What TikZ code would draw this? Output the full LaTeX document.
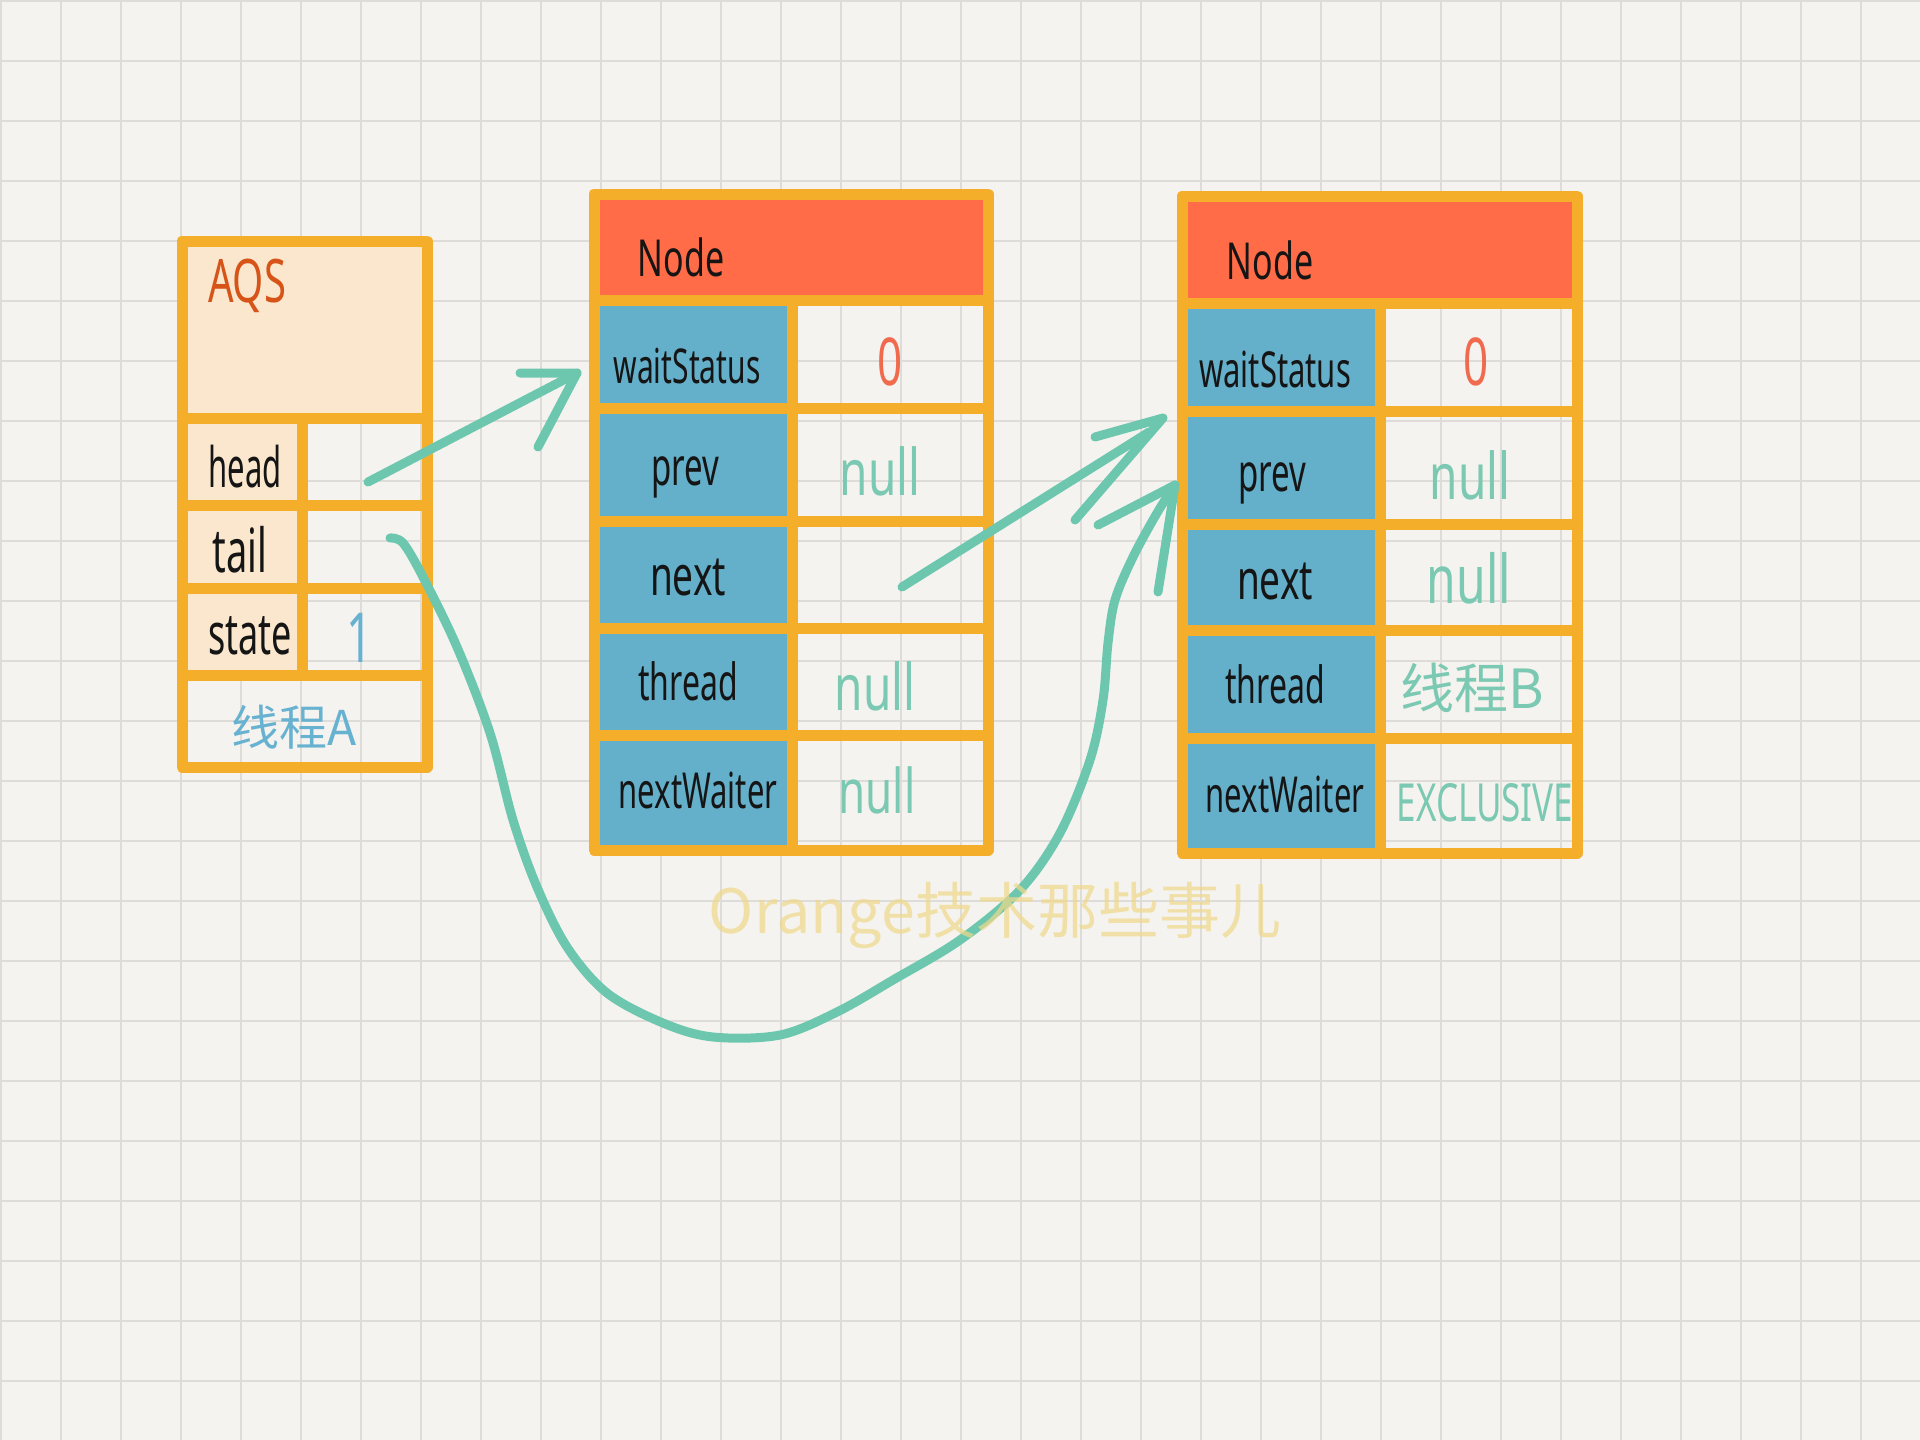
\documentclass[tikz,border=0pt]{standalone}
\usepackage{fontspec}
\usepackage{graphicx}
\setmainfont{Noto Sans}
\newfontfamily\cjk{Noto Sans CJK SC}
\usetikzlibrary{fit}
\definecolor{paper}{HTML}{F5F3EF}
\definecolor{gridc}{HTML}{DEDCD9}
\definecolor{framec}{HTML}{F5AE2A}
\definecolor{peach}{HTML}{FBE7CD}
\definecolor{hdrc}{HTML}{FF6C47}
\definecolor{lblue}{HTML}{64AFC9}
\definecolor{arrowc}{HTML}{6DC7AE}
\definecolor{nulc}{HTML}{7BC9B2}
\definecolor{zeroc}{HTML}{F06A4D}
\definecolor{aqsc}{HTML}{D65418}
\definecolor{bluetxt}{HTML}{67B1D1}
\definecolor{wmark}{HTML}{EFD98A}
\definecolor{ink}{HTML}{151515}
\newcommand\hwtext[3][1.5]{\fontsize{#2}{#2}\selectfont\scalebox{1}[#1]{#3}}
\newcommand\cjktext[2]{\fontsize{#1}{#1}\selectfont\cjk #2}
\newcommand\cellbox[6]{\node[cellst, fill=#6, fit={(#2,#3) (#4,#5)}] (#1) {};}
\begin{document}
\begin{tikzpicture}[x=1pt, y=-1pt,
  cellst/.style={rectangle, draw=framec, line width=11pt, line join=round, inner sep=0pt, outer sep=0pt},
  gridl/.style={draw=gridc, line width=2pt},
  hand/.style={inner sep=0pt, text=ink},
  nulltxt/.style={inner sep=0pt, text=nulc},
  arr/.style={draw=arrowc, line width=9pt, line cap=round, line join=round}]
\useasboundingbox (0,0) rectangle (1920,1440);
\fill[paper] (0,0) rectangle (1920,1440);
\foreach \k in {0,...,31} {\draw[gridl] ({1+60*\k},0) -- ({1+60*\k},1440);}
\foreach \k in {0,...,23} {\draw[gridl] (0,{1+60*\k}) -- (1920,{1+60*\k});}

% ---------- AQS ----------
\cellbox{aqs}{182}{241}{427}{418}{peach}
\cellbox{aqshl}{182}{418}{302}{505}{peach}
\cellbox{aqshv}{302}{418}{427}{505}{none}
\cellbox{aqstl}{182}{505}{302}{588}{peach}
\cellbox{aqstv}{302}{505}{427}{588}{none}
\cellbox{aqssl}{182}{588}{302}{675}{peach}
\cellbox{aqssv}{302}{588}{427}{675}{none}
\cellbox{aqsth}{182}{675}{427}{767}{none}

% ---------- Node 1 ----------
\cellbox{nah}{594}{194}{988}{300}{hdrc}
\cellbox{na1l}{594}{300}{792}{408}{lblue}
\cellbox{na1v}{792}{300}{988}{408}{none}
\cellbox{na2l}{594}{408}{792}{521}{lblue}
\cellbox{na2v}{792}{408}{988}{521}{none}
\cellbox{na3l}{594}{521}{792}{628}{lblue}
\cellbox{na3v}{792}{521}{988}{628}{none}
\cellbox{na4l}{594}{628}{792}{735}{lblue}
\cellbox{na4v}{792}{628}{988}{735}{none}
\cellbox{na5l}{594}{735}{792}{850}{lblue}
\cellbox{na5v}{792}{735}{988}{850}{none}

% ---------- Node 2 ----------
\cellbox{nbh}{1182}{196}{1577}{303}{hdrc}
\cellbox{nb1l}{1182}{303}{1380}{411}{lblue}
\cellbox{nb1v}{1380}{303}{1577}{411}{none}
\cellbox{nb2l}{1182}{411}{1380}{524}{lblue}
\cellbox{nb2v}{1380}{411}{1577}{524}{none}
\cellbox{nb3l}{1182}{524}{1380}{630}{lblue}
\cellbox{nb3v}{1380}{524}{1577}{630}{none}
\cellbox{nb4l}{1182}{630}{1380}{738}{lblue}
\cellbox{nb4v}{1380}{630}{1577}{738}{none}
\cellbox{nb5l}{1182}{738}{1380}{853}{lblue}
\cellbox{nb5v}{1380}{738}{1577}{853}{none}

% ---------- AQS texts ----------
\node[inner sep=0pt, text=aqsc] (taqs) at (247,286) {\hwtext{40}{AQS}};
\node[hand] (thead) at (245,467) {\hwtext[1.8]{31}{head}};
\node[hand] (ttail) at (240,550) {\hwtext[1.6]{38}{tail}};
\node[hand] (tstate) at (250,636) {\hwtext[1.6]{36}{state}};
\node[inner sep=0pt, text=bluetxt] (tone) at (360,638) {\hwtext{46}{1}};
\node[inner sep=0pt, text=bluetxt] (tthA) at (294,727) {\cjktext{48}{线程A}};

% ---------- Node 1 texts ----------
\node[hand] (tna) at (681,257) {\hwtext{34}{Node}};
\node[hand] (tna1) at (687,366) {\hwtext[1.6]{30}{waitStatus}};
\node[hand] (tna2) at (685,477) {\hwtext[1.6]{33}{prev}};
\node[hand] (tna3) at (688,577) {\hwtext{37}{next}};
\node[hand] (tna4) at (688,681) {\hwtext[1.6]{32}{thread}};
\node[hand] (tna5) at (698,790) {\hwtext[1.6]{31}{nextWaiter}};
\node[inner sep=0pt, text=zeroc] (vna1) at (890,362) {\hwtext{44}{0}};
\node[nulltxt] (vna2) at (880,471) {\hwtext[1.4]{46}{null}};
\node[nulltxt] (vna4) at (875,686) {\hwtext[1.4]{46}{null}};
\node[nulltxt] (vna5) at (877,790) {\hwtext[1.4]{44}{null}};

% ---------- Node 2 texts ----------
\node[hand] (tnb) at (1270,260) {\hwtext{34}{Node}};
\node[hand] (tnb1) at (1275,369) {\hwtext[1.6]{31}{waitStatus}};
\node[hand] (tnb2) at (1272,483) {\hwtext[1.6]{33}{prev}};
\node[hand] (tnb3) at (1275,581) {\hwtext{37}{next}};
\node[hand] (tnb4) at (1275,684) {\hwtext[1.6]{32}{thread}};
\node[hand] (tnb5) at (1285,794) {\hwtext[1.6]{31}{nextWaiter}};
\node[inner sep=0pt, text=zeroc] (vnb1) at (1476,362) {\hwtext{44}{0}};
\node[nulltxt] (vnb2) at (1470,475) {\hwtext[1.4]{46}{null}};
\node[nulltxt] (vnb3) at (1469,578) {\hwtext[1.4]{48}{null}};
\node[nulltxt] (vnb4) at (1472,688) {\cjktext{54}{线程B}};
\node[nulltxt] (vnb5) at (1485,803) {\hwtext{35}{EXCLUSIVE}};

% ---------- arrows ----------
\coordinate (a1s) at (368,482);
\coordinate (a1t) at (577,373);
\draw[arr] (a1s) -- (a1t);
\draw[arr] (520,373) -- (a1t) -- (538,447);

\coordinate (a2s) at (902,587);
\coordinate (a2t) at (1163,418);
\draw[arr] (a2s) -- (1149,432);
\draw[arr] (1095,437) -- (a2t) -- (1075,520);

\coordinate (c3s) at (390,538);
\coordinate (c3t) at (1175,485);
\draw[arr] plot[smooth, tension=0.55] coordinates {(c3s) (403,543) (423,577) (457,647) (490,733) (513,820) (537,887) (567,947) (607,993) (663,1023) (713,1037) (780,1035) (837,1012) (893,980) (960,940) (1020,890) (1060,833) (1090,760) (1103,700) (1108,643) (1115,600) (1133,557) (1157,513) (c3t)};
\draw[arr] (1098,525) -- (c3t) -- (1158,592);

% ---------- watermark ----------
\node[inner sep=0pt, text=wmark, text opacity=0.7] (wm) at (995,915) {\fontsize{61}{61}\selectfont\cjk Orange技术那些事儿};
\end{tikzpicture}
\end{document}
